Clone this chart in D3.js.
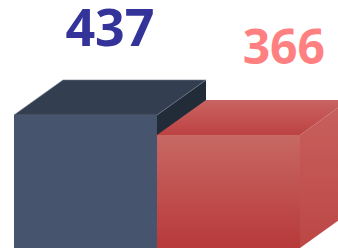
<!DOCTYPE html>
<html style="overflow:hidden;">
<head>
	<meta charset="utf-8">
	<script src="https://cdnjs.cloudflare.com/ajax/libs/d3/7.8.5/d3.min.js" charset="utf-8"></script>
	<style>
		body { margin:0; background:#fff; }
	</style>
</head>
<body>
<div id="chart"></div>
<script>
// data
var categories = ["A", "B"];
var values = [437, 366];
var labelColors = ["#333399", "#ff8080"];
var labelSizes = [52, 48];

var width = 338,
    height = 248,
    margin = {left: 14},
    depthX = 49,
    depthY = 35;

var svg = d3.select("#chart")
  .append("svg")
    .attr("width", width)
    .attr("height", height);

var defs = svg.append("defs");
function grad(id, c1, c2) {
  var g = defs.append("linearGradient").attr("id", id)
    .attr("x1", 0).attr("y1", 0).attr("x2", 0).attr("y2", 1);
  g.append("stop").attr("offset", "0%").attr("stop-color", c1);
  g.append("stop").attr("offset", "100%").attr("stop-color", c2);
}
grad("redFront", "#c76964", "#b8393a");
grad("redTop", "#c96462", "#bd4242");
grad("redSide", "#c8615e", "#bc4745");

var styles = [
  {front: "#46556d", top: "#333e51", side: "#222b38", edge: "#6f7c8e"},
  {front: "url(#redFront)", top: "url(#redTop)", side: "url(#redSide)", edge: "none"}
];

// each box front is 143px wide
var x = d3.scaleBand()
  .domain(categories)
  .range([margin.left, margin.left + 286])
  .padding(0);

var y = d3.scaleLinear()
  .domain([0, d3.max(values)])
  .range([238, 115]);

var bottom = height;

categories.forEach(function(c, i) {
  var x0 = x(c), x1 = x(c) + x.bandwidth(), yt = y(values[i]);
  var g = svg.append("g");
  // side face
  g.append("path")
    .attr("d", "M" + x1 + "," + yt + " L" + (x1 + depthX) + "," + (yt - depthY) +
      " L" + (x1 + depthX) + "," + (bottom - depthY) + " L" + x1 + "," + bottom + "Z")
    .attr("fill", styles[i].side);
  // top face
  g.append("path")
    .attr("d", "M" + x0 + "," + yt + " L" + (x0 + depthX) + "," + (yt - depthY) +
      " L" + (x1 + depthX) + "," + (yt - depthY) + " L" + x1 + "," + yt + "Z")
    .attr("fill", styles[i].top)
    .attr("stroke", styles[i].edge)
    .attr("stroke-width", 0.6);
  // front face
  g.append("rect")
    .attr("x", x0)
    .attr("y", yt)
    .attr("width", x.bandwidth())
    .attr("height", bottom - yt)
    .attr("fill", styles[i].front);
});

// value labels: centred over the box, last one pulled inside the right edge
categories.forEach(function(c, i) {
  var cx = x(c) + x.bandwidth() / 2 + depthX / 2;
  var t = svg.append("text")
    .attr("x", cx)
    .attr("y", y(values[i]) - depthY - (i === 0 ? 34 : 36))
    .attr("text-anchor", "middle")
    .attr("font-family", "'Noto Sans', sans-serif")
    .attr("font-weight", "bold")
    .attr("font-size", labelSizes[i])
    .attr("fill", labelColors[i])
    .text(values[i]);
  if (i === categories.length - 1) {
    t.attr("text-anchor", "end").attr("x", width - 13);
  }
});
</script>
</body>
</html>
